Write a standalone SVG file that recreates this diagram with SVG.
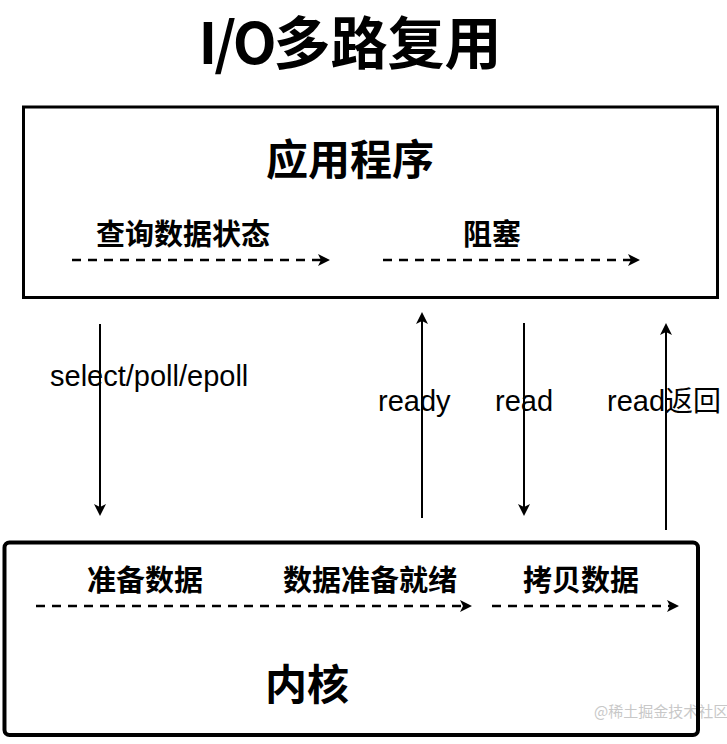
<svg xmlns="http://www.w3.org/2000/svg" width="727" height="744" viewBox="0 0 727 744">
  <style>
    .cjk { font-family: "Noto Sans CJK SC", "Noto Sans", sans-serif; font-weight: 700; fill: #000; text-anchor: middle; }
    .lbl { font-family: "Liberation Sans", Arial, sans-serif; font-size: 29px; fill: #000; }
    .box { stroke: #000; }
    .dash { stroke: #000; stroke-width: 2.5; stroke-dasharray: 9 7; fill: none; marker-end: url(#ah); }
    .solid { stroke: #000; stroke-width: 2; fill: none; marker-end: url(#ah); }
  </style>
  <defs>
    <marker id="ah" markerUnits="userSpaceOnUse" markerWidth="12" markerHeight="12" refX="3" refY="6" orient="auto" viewBox="0 0 12 12">
      <path d="M0,0 L12,6 L0,12 L3,6 Z" fill="#000" stroke="none"/>
    </marker>
  </defs>
  <rect width="727" height="744" fill="#fff"/>

  <g id="title">
    <text class="cjk" x="350" y="64" font-size="57"><tspan letter-spacing="-3">I/O</tspan>多路复用</text>
  </g>

  <g id="app">
    <rect class="box" x="23.5" y="107" width="694" height="190.5" stroke-width="3" fill="#fff"/>
    <text class="cjk" x="350" y="175" font-size="42">应用程序</text>
    <text class="cjk" x="183" y="245" font-size="29">查询数据状态</text>
    <text class="cjk" x="492" y="245" font-size="29">阻塞</text>
  </g>

  <g id="watermark">
    <text x="594" y="717" font-family="Noto Sans CJK SC, sans-serif" font-size="15" fill="#c8c8c8">@稀土掘金技术社区</text>
  </g>

  <g id="kernel">
    <rect class="box" x="4.5" y="542.5" width="693.5" height="192.5" rx="5" stroke-width="4" style="fill:none"/>
    <text class="cjk" x="145" y="591" font-size="29">准备数据</text>
    <text class="cjk" x="370" y="591" font-size="29">数据准备就绪</text>
    <text class="cjk" x="581" y="591" font-size="29">拷贝数据</text>
    <text class="cjk" x="307" y="700" font-size="42">内核</text>
  </g>

  <g id="connectors">
    <line class="dash" x1="72" y1="260" x2="321" y2="260"/>
    <line class="dash" x1="383" y1="260" x2="631" y2="260"/>
    <line class="dash" x1="36" y1="606" x2="463" y2="606"/>
    <line class="dash" x1="492" y1="606" x2="670" y2="606"/>

    <line class="solid" x1="100" y1="324" x2="100" y2="507"/>
    <line class="solid" x1="422" y1="518" x2="422" y2="321"/>
    <line class="solid" x1="524" y1="323" x2="524" y2="507"/>
    <line class="solid" x1="666" y1="530" x2="666" y2="332"/>

    <text class="lbl" x="50" y="386">select/poll/epoll</text>
    <text class="lbl" x="378" y="411">ready</text>
    <text class="lbl" x="495" y="411">read</text>
    <text class="lbl" x="607" y="411">read<tspan font-family="Noto Sans CJK SC, sans-serif" font-size="28">返回</tspan></text>
  </g>
</svg>
